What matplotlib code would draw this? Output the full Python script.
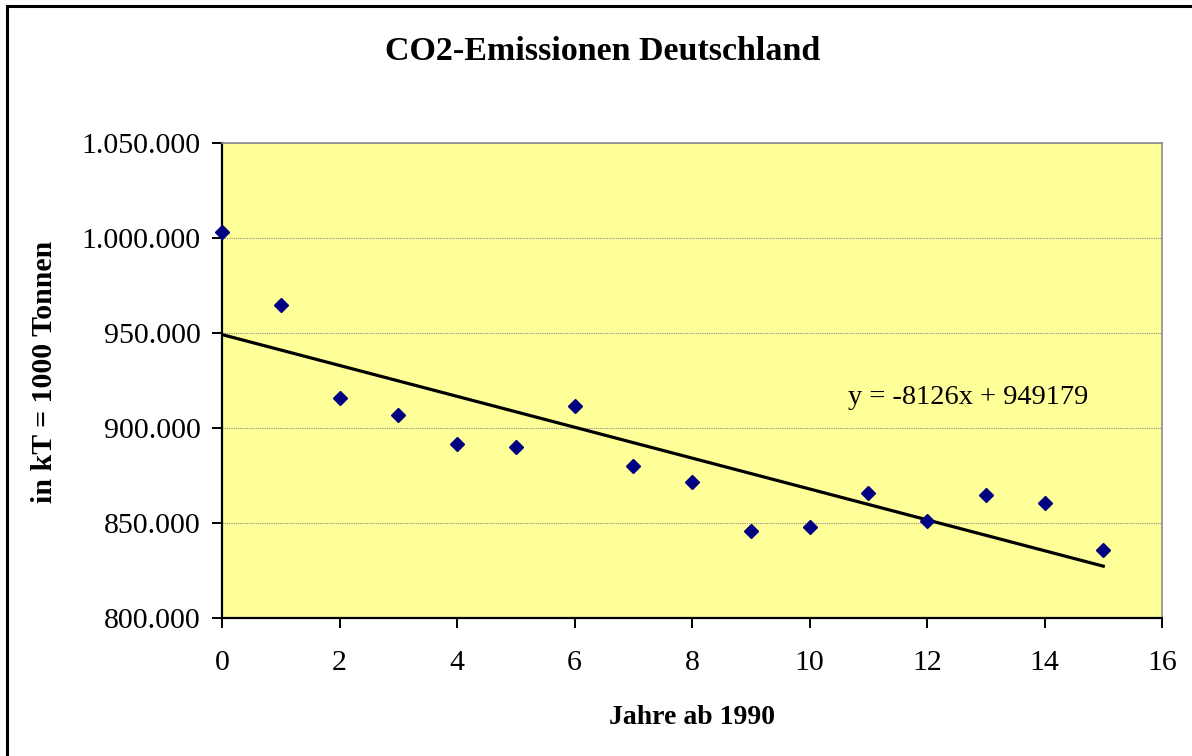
import numpy as np
import matplotlib
matplotlib.use('Agg')
import matplotlib.pyplot as plt
from matplotlib.patches import Rectangle
from matplotlib.ticker import FuncFormatter

# data
jahre = [0, 1, 2, 3, 4, 5, 6, 7, 8, 9, 10, 11, 12, 13, 14, 15]
emissionen = [1003000, 965000, 916000, 907000, 891500, 890000, 911500, 880000,
              871500, 846000, 848000, 866000, 851000, 865000, 860500, 836000]

# trendline as given by the equation in the chart
steigung = -8126
achsenabschnitt = 949179

plt.rcParams['font.family'] = ['Liberation Serif', 'DejaVu Serif']

W, H = 1192, 756
fig = plt.figure(figsize=(W / 100, H / 100), dpi=100)
fig.patch.set_facecolor('white')

# outer chart border (cut off at right/bottom like the reference)
fig.patches.append(Rectangle((7 / W, -0.05), 1.2, 1 - 5.5 / H + 0.05, transform=fig.transFigure,
                             fill=False, edgecolor='black', linewidth=2.2))

l, r, t, b = 222, 1162, 143, 618
ax = fig.add_axes([l / W, 1 - b / H, (r - l) / W, (b - t) / H])
ax.set_facecolor('#FFFF99')

ax.set_xlim(0, 16)
ax.set_ylim(800000, 1050000)
ax.set_xticks(np.arange(0, 17, 2))
ax.set_yticks(np.arange(800000, 1050001, 50000))
ax.yaxis.set_major_formatter(FuncFormatter(lambda v, p: f'{int(v):,}'.replace(',', '.')))

ax.grid(axis='y', color='#8c8c8c', linestyle=(0, (1, 1)), linewidth=0.8)
ax.set_axisbelow(True)

for s in ['left', 'bottom']:
    ax.spines[s].set_color('black')
    ax.spines[s].set_linewidth(1.6)
for s in ['top', 'right']:
    ax.spines[s].set_color('#8c8c8c')
    ax.spines[s].set_linewidth(1.2)

ax.tick_params(axis='both', direction='out', length=7, width=1.4, labelsize=21.5, color='black')
ax.tick_params(axis='y', pad=8.5)
ax.tick_params(axis='x', pad=16)

xt = np.array([jahre[0], jahre[-1]])
ax.plot(xt, steigung * xt + achsenabschnitt, color='black', linewidth=2.3, zorder=3)
ax.plot(jahre, emissionen, linestyle='none', marker='D', markersize=7.5,
        color='#000080', clip_on=False, zorder=4)

ax.text(10.65, 916000, 'y = -8126x + 949179', fontsize=20.4, ha='left', va='center')

fig.text(603 / W, 1 - 52 / H, 'CO2-Emissionen Deutschland', fontsize=24.5, fontweight='bold',
         ha='center', va='center')
fig.text(692 / W, 1 - 718 / H, 'Jahre ab 1990', fontsize=20, fontweight='bold',
         ha='center', va='center')
fig.text(45 / W, 1 - 372 / H, 'in kT = 1000 Tonnen', fontsize=21.5, fontweight='bold',
         ha='center', va='center', rotation=90)

plt.savefig('out.png', dpi=100)
plt.close()
